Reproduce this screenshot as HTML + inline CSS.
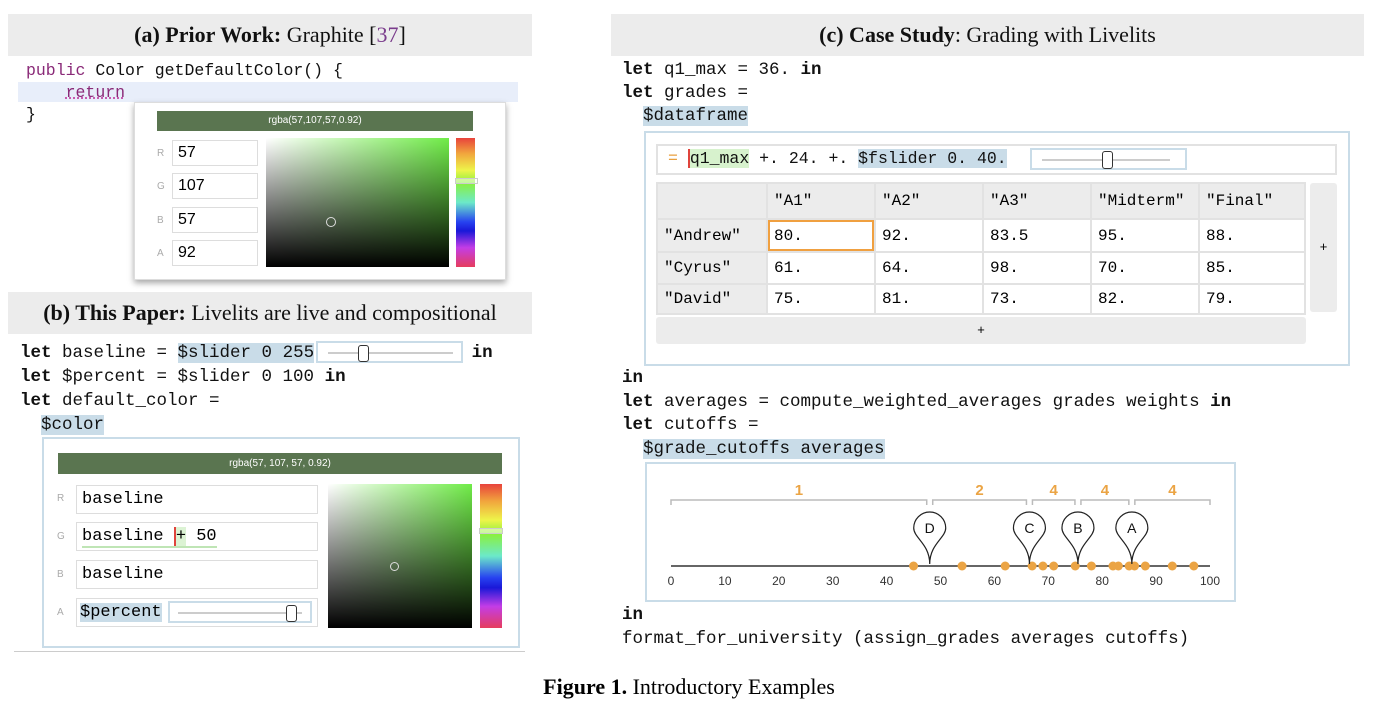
<!DOCTYPE html>
<html><head><meta charset="utf-8"><style>
body{margin:0;width:1378px;height:714px;background:#fff;position:relative;overflow:hidden;font-family:"Liberation Mono",monospace;}
.a{position:absolute;}
.hdr{position:absolute;background:#ececec;font-family:"Liberation Serif",serif;font-size:22px;text-align:center;line-height:42px;color:#111;}
.code{position:absolute;font-family:"Liberation Mono",monospace;font-size:17.5px;white-space:pre;color:#111;line-height:22px;}
.hl{background:#c9dce8;}
.box{position:absolute;border:2px solid #c9dce8;box-sizing:border-box;}
.inp{position:absolute;border:1px solid #ddd;box-sizing:border-box;background:#fff;font-family:"Liberation Mono",monospace;font-size:17px;padding-left:5px;}
.lab{position:absolute;font-family:"Liberation Sans",sans-serif;font-size:10px;color:#aaa;}
.gbar{position:absolute;background:#5a7550;color:#fff;font-family:"Liberation Sans",sans-serif;font-size:10px;text-align:center;}
.grad{position:absolute;background:linear-gradient(to bottom,rgba(0,0,0,0),#000),linear-gradient(to right,#fff,#70ec48);}
.hue{position:absolute;background:linear-gradient(to bottom,#e8433c,#f1a53d 12%,#eef44a 25%,#8af03f 35%,#6ce9c9 50%,#2743f0 65%,#1a18d8 72%,#c33de6 85%,#e63d5d);}
table{position:absolute;border-collapse:collapse;font-family:"Liberation Mono",monospace;font-size:16px;}
td{border:2px solid #e2e2e2;padding:0 0 0 6px;box-sizing:border-box;}
</style></head><body>
<div class="hdr" style="left:8px;top:14px;width:524px;height:42px;"><b>(a) Prior Work:</b> Graphite [<span style="color:#7a3c8c">37</span>]</div>
<div class="hdr" style="left:611px;top:14px;width:753px;height:42px;"><b>(c) Case Study</b>: Grading with Livelits</div>
<div class="hdr" style="left:8px;top:292px;width:524px;height:42px;"><b>(b) This Paper:</b> Livelits are live and compositional</div>

<!-- (a) -->
<div class="a" style="left:18px;top:82px;width:500px;height:20px;background:#e8eefa;"></div>
<div class="code" style="left:26px;top:60px;font-size:16.5px;"><span style="color:#8a2a78">public</span> Color getDefaultColor() {
    <span style="color:#8a2a78;text-decoration:underline dotted #c03ca0">return</span>
}</div>
<div class="a" style="left:134px;top:102px;width:372px;height:178px;background:#fff;box-shadow:0 3px 6px rgba(0,0,0,0.35);border:1px solid #ddd;box-sizing:border-box;"></div>
<div class="gbar" style="left:157px;top:111px;width:316px;height:20px;line-height:20px;">rgba(57,107,57,0.92)</div>
<div class="lab" style="left:157px;top:148px;">R</div>
<div class="lab" style="left:157px;top:181px;">G</div>
<div class="lab" style="left:157px;top:215px;">B</div>
<div class="lab" style="left:157px;top:248px;">A</div>
<div class="inp" style="left:172px;top:140px;width:86px;height:26px;line-height:24px;font-family:'Liberation Sans',sans-serif;font-size:16px;">57</div>
<div class="inp" style="left:172px;top:173px;width:86px;height:26px;line-height:24px;font-family:'Liberation Sans',sans-serif;font-size:16px;">107</div>
<div class="inp" style="left:172px;top:207px;width:86px;height:26px;line-height:24px;font-family:'Liberation Sans',sans-serif;font-size:16px;">57</div>
<div class="inp" style="left:172px;top:240px;width:86px;height:26px;line-height:24px;font-family:'Liberation Sans',sans-serif;font-size:16px;">92</div>
<div class="grad" style="left:266px;top:138px;width:183px;height:129px;"></div>
<div class="a" style="left:326px;top:217px;width:8px;height:8px;border:1.5px solid #ddd;border-radius:50%;"></div>
<div class="hue" style="left:456px;top:138px;width:19px;height:129px;"></div>
<div class="a" style="left:455px;top:178px;width:21px;height:4px;border:1px solid #ccc;background:rgba(255,255,255,.5);"></div>

<!-- (b) -->
<div class="code" style="left:20px;top:341px;line-height:24px;"><b>let</b> baseline = <span class="hl">$slider 0 255</span>               <b>in</b>
<b>let</b> $percent = $slider 0 100 <b>in</b>
<b>let</b> default_color =
  <span class="hl">$color</span></div>
<div class="a" style="left:316px;top:341px;width:147px;height:22px;border:2px solid #c9dce8;box-sizing:border-box;background:#fff;"><div class="a" style="left:10px;top:9px;width:125px;height:2px;background:#ccc;"></div><div class="a" style="left:40px;top:2px;width:9px;height:15px;border:1.5px solid #333;border-radius:3px;background:#fff;"></div></div>
<div class="box" style="left:42px;top:437px;width:478px;height:211px;"></div>
<div class="gbar" style="left:58px;top:453px;width:444px;height:21px;line-height:21px;">rgba(57, 107, 57, 0.92)</div>
<div class="lab" style="left:57px;top:493px;">R</div>
<div class="lab" style="left:57px;top:531px;">G</div>
<div class="lab" style="left:57px;top:569px;">B</div>
<div class="lab" style="left:57px;top:607px;">A</div>
<div class="inp" style="left:76px;top:485px;width:242px;height:29px;line-height:27px;">baseline</div>
<div class="inp" style="left:76px;top:522px;width:242px;height:29px;line-height:27px;"><span style="border-bottom:2px solid #bfe5b5">baseline <span style="border-left:2px solid #e0443c;background:#dcf3d4">+</span> 50</span></div>
<div class="inp" style="left:76px;top:560px;width:242px;height:29px;line-height:27px;">baseline</div>
<div class="inp" style="left:76px;top:598px;width:242px;height:29px;line-height:27px;padding-left:3px;"><span class="hl">$percent</span></div>
<div class="a" style="left:168px;top:601px;width:144px;height:22px;border:2px solid #c9dce8;box-sizing:border-box;background:#fff;"><div class="a" style="left:8px;top:9px;width:124px;height:2px;background:#ccc;"></div><div class="a" style="left:116px;top:2px;width:9px;height:15px;border:1.5px solid #333;border-radius:3px;background:#fff;"></div></div>
<div class="grad" style="left:328px;top:484px;width:144px;height:144px;"></div>
<div class="a" style="left:390px;top:562px;width:7px;height:7px;border:1.5px solid #ddd;border-radius:50%;"></div>
<div class="hue" style="left:480px;top:484px;width:22px;height:144px;"></div>
<div class="a" style="left:479px;top:528px;width:22px;height:4px;border:1px solid #ccc;background:rgba(255,255,255,.5);"></div>
<div class="a" style="left:14px;top:651px;width:511px;height:1px;background:#ccc;"></div>

<!-- (c) -->
<div class="code" style="left:622px;top:59px;line-height:23px;"><b>let</b> q1_max = 36. <b>in</b>
<b>let</b> grades =
  <span class="hl">$dataframe</span></div>
<div class="box" style="left:644px;top:131px;width:706px;height:235px;"></div>
<div class="a" style="left:656px;top:144px;width:681px;height:31px;border:2px solid #e2e2e2;box-sizing:border-box;"></div>
<div class="code" style="left:668px;top:148px;font-size:16.5px;"><span style="color:#e8a040">=</span> <span style="border-left:2px solid #e0443c;background:#d7f2cd">q1_max</span> +. 24. +. <span class="hl">$fslider 0. 40.</span></div>
<div class="a" style="left:1030px;top:148px;width:157px;height:22px;border:2px solid #c9dce8;box-sizing:border-box;background:#fff;"><div class="a" style="left:10px;top:9px;width:128px;height:2px;background:#ccc;"></div><div class="a" style="left:70px;top:1px;width:9px;height:16px;border:1.5px solid #333;border-radius:3px;background:#fff;"></div></div>
<table style="left:656px;top:182px;width:650px;">
<tr style="height:36px;background:#ececec"><td style="width:110px"></td><td style="width:108px">"A1"</td><td style="width:108px">"A2"</td><td style="width:108px">"A3"</td><td style="width:108px">"Midterm"</td><td>"Final"</td></tr>
<tr style="height:33px"><td style="background:#ececec">"Andrew"</td><td style="box-shadow:inset 0 0 0 2px #f0a040">80.</td><td>92.</td><td>83.5</td><td>95.</td><td>88.</td></tr>
<tr style="height:32px"><td style="background:#ececec">"Cyrus"</td><td>61.</td><td>64.</td><td>98.</td><td>70.</td><td>85.</td></tr>
<tr style="height:30px"><td style="background:#ececec">"David"</td><td>75.</td><td>81.</td><td>73.</td><td>82.</td><td>79.</td></tr>
</table>
<div class="a" style="left:1310px;top:183px;width:27px;height:129px;background:#ececec;border-radius:3px;text-align:center;line-height:129px;font-size:13px;">+</div>
<div class="a" style="left:656px;top:317px;width:650px;height:27px;background:#ececec;border-radius:3px;text-align:center;line-height:27px;font-size:13px;">+</div>
<div class="code" style="left:622px;top:367px;line-height:23.5px;"><b>in</b>
<b>let</b> averages = compute_weighted_averages grades weights <b>in</b>
<b>let</b> cutoffs =
  <span class="hl">$grade_cutoffs averages</span></div>
<div class="box" style="left:645px;top:462px;width:591px;height:140px;"></div>
<svg id="chart" class="a" style="left:645px;top:462px;" width="591" height="140"></svg>
<div class="code" style="left:622px;top:603px;line-height:24px;"><b>in</b>
format_for_university (assign_grades averages cutoffs)</div>
<div class="a" style="left:0;top:674px;width:1378px;text-align:center;font-family:'Liberation Serif',serif;font-size:22px;"><b>Figure 1.</b> Introductory Examples</div>

<script>
const ticks=[0,10,20,30,40,50,60,70,80,90,100];
const scores=[45,54,62,67,69,71,75,78,82,83,85,86,88,93,97];
const cutoffs=[48,66.5,75.5,85.5];
const grades=["D","C","B","A"];
const counts=[1,2,4,4,4];
const svg=document.getElementById('chart');
const NS='http://www.w3.org/2000/svg';
const x0=26,x1=565,axisY=104;
function xs(v){return x0+(x1-x0)*v/100;}
function mk(t,a){const e=document.createElementNS(NS,t);for(const k in a)e.setAttribute(k,a[k]);svg.appendChild(e);return e;}
let l=mk('line',{x1:xs(0),x2:xs(100),y1:axisY,y2:axisY,stroke:'#333','stroke-width':1.5});


ticks.forEach(t=>{const e=mk('text',{x:xs(t),y:axisY+19,'text-anchor':'middle','font-family':'Liberation Sans,sans-serif','font-size':12,fill:'#333'});e.textContent=t;

});
const bounds=[0].concat(cutoffs,[100]);
for(let i=0;i<counts.length;i++){const a=xs(bounds[i])+(i?3:0),b=xs(bounds[i+1])-(i<counts.length-1?3:0),y=38;
const p=mk('path',{d:`M${a},${y+5}V${y}H${b}V${y+5}`,fill:'none',stroke:'#bbb','stroke-width':1.5});


const t=mk('text',{x:(a+b)/2,y:y-5,'text-anchor':'middle','font-family':'Liberation Sans,sans-serif','font-size':15,'font-weight':'bold',fill:'#eba444'});t.textContent=counts[i];

}
scores.forEach(s=>{const c=mk('circle',{cx:xs(s),cy:axisY,r:4.5,fill:'#eba444'});

});
cutoffs.forEach((c,i)=>{const x=xs(c),cy=66,r=16;
const p=mk('path',{d:`M${x},${axisY-2} C${x},${cy+r} ${x-r},${cy+10} ${x-r},${cy} A${r},${r} 0 1 1 ${x+r},${cy} C${x+r},${cy+10} ${x},${cy+r} ${x},${axisY-2}Z`,fill:'#fff',stroke:'#222','stroke-width':1.2});


const t=mk('text',{x:x,y:cy+5,'text-anchor':'middle','font-family':'Liberation Sans,sans-serif','font-size':14,fill:'#111'});t.textContent=grades[i];

});
</script>
</body></html>
